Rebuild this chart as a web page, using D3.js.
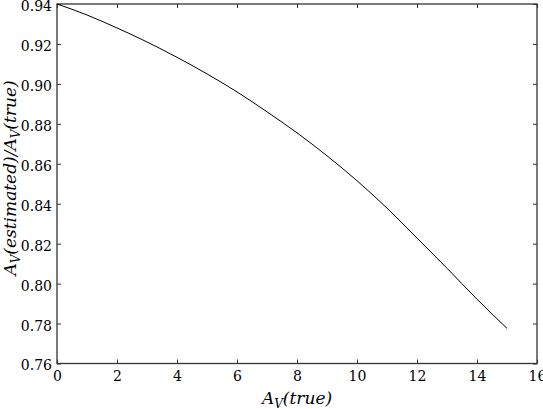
<!DOCTYPE html>
<html>
<head>
<meta charset="utf-8">
<script src="https://cdn.jsdelivr.net/npm/d3@7"></script>
<style>
  body { margin: 0; background: #fff; }
  svg text { font-family: "DejaVu Serif", serif !important; fill: #000; }
</style>
</head>
<body>
<div id="chart"></div>
<script>
// data
var avTrue = [0, 1, 2, 3, 4, 5, 6, 7, 8, 9, 10, 11, 12, 13, 14, 15];
var ratio = [0.9400, 0.9345, 0.9280, 0.9210, 0.9133, 0.9050, 0.8960, 0.8860,
             0.8755, 0.8640, 0.8515, 0.8378, 0.8228, 0.8077, 0.7922, 0.7776];
var xTicks = [0, 2, 4, 6, 8, 10, 12, 14, 16];
var yTicks = [0.76, 0.78, 0.80, 0.82, 0.84, 0.86, 0.88, 0.90, 0.92, 0.94];

var margin = { top: 4, right: 6, bottom: 45.5, left: 57 },
    width = 543 - margin.left - margin.right,
    height = 409 - margin.top - margin.bottom;

var svg = d3.select("#chart")
    .append("svg")
    .attr("width", 543)
    .attr("height", 409)
    .append("g")
    .attr("transform", "translate(" + margin.left + "," + margin.top + ")");

var x = d3.scaleLinear().domain([0, 16]).range([0, width]);
var y = d3.scaleLinear().domain([0.76, 0.94]).range([height, 0]);

// axes, ticks pointing inward on all four sides
function styleAxis(g) {
    g.attr("font-family", null).attr("font-size", null);
    g.select(".domain").remove();
    g.selectAll(".tick line").attr("stroke", "#333").attr("stroke-width", 1);
    g.selectAll(".tick text").style("font-size", "14px");
}

svg.append("g")
    .attr("transform", "translate(0," + height + ")")
    .call(d3.axisBottom(x).tickValues(xTicks).tickSizeInner(-4).tickSizeOuter(0).tickPadding(8))
    .call(styleAxis);

svg.append("g")
    .call(d3.axisLeft(y).tickValues(yTicks).tickFormat(d3.format(".2f"))
        .tickSizeInner(-4).tickSizeOuter(0).tickPadding(5))
    .call(styleAxis)
    .selectAll(".tick text").attr("dy", "0.46em");

svg.append("g")
    .call(d3.axisTop(x).tickValues(xTicks).tickSizeInner(-4).tickSizeOuter(0).tickFormat(""))
    .call(styleAxis);

svg.append("g")
    .attr("transform", "translate(" + width + ",0)")
    .call(d3.axisRight(y).tickValues(yTicks).tickSizeInner(-4).tickSizeOuter(0).tickFormat(""))
    .call(styleAxis);

// frame
svg.append("rect")
    .attr("x", 0).attr("y", 0)
    .attr("width", width).attr("height", height)
    .attr("fill", "none")
    .attr("stroke", "#333")
    .attr("stroke-width", 1.3);

// curve
var line = d3.line()
    .x(function (d, i) { return x(avTrue[i]); })
    .y(function (d) { return y(d); })
    .curve(d3.curveMonotoneX);

svg.append("path")
    .datum(ratio)
    .attr("d", line)
    .attr("fill", "none")
    .attr("stroke", "#000")
    .attr("stroke-width", 1);

// axis labels
var xl = svg.append("text")
    .attr("x", width / 2)
    .attr("y", height + 40)
    .attr("text-anchor", "middle")
    .style("font-size", "17px")
    .style("font-style", "italic");
xl.append("tspan").text("A");
xl.append("tspan").attr("dy", 4).style("font-size", "12px").text("V");
xl.append("tspan").attr("dy", -4).text("(true)");

var yl = svg.append("text")
    .attr("text-anchor", "middle")
    .style("font-size", "17px")
    .style("font-style", "italic");
yl.append("tspan").text("A");
yl.append("tspan").attr("dy", 4).style("font-size", "12px").text("V");
yl.append("tspan").attr("dy", -4).text("(estimated)/A");
yl.append("tspan").attr("dy", 4).style("font-size", "12px").text("V");
yl.append("tspan").attr("dy", -4).text("(true)");

// squeeze the label to the reference length (~206px)
var natural = yl.node().getComputedTextLength();
var sx = Math.min(1, 206 / natural);
yl.attr("transform", "translate(" + (-41) + "," + 174 + ") rotate(-90) scale(" + sx + ",1)");
</script>
</body>
</html>
